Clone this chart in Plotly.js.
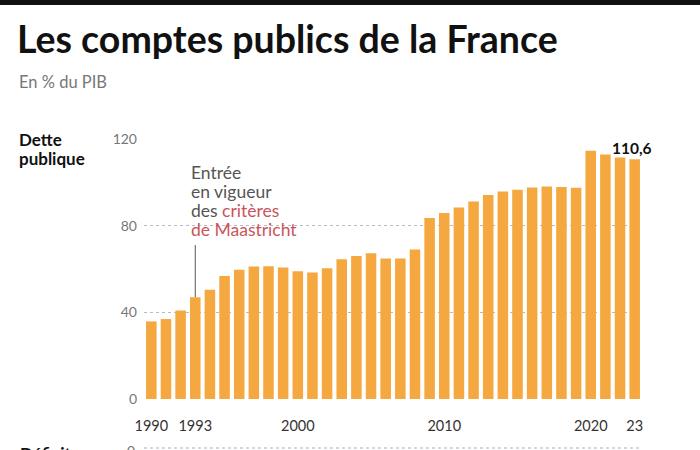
<!DOCTYPE html>
<html>
<head>
<meta charset="utf-8">
<script src="https://cdn.plot.ly/plotly-3.0.1.min.js"></script>
<style>
html,body{margin:0;padding:0;background:#fff;overflow:hidden;}
#chart{width:700px;height:450px;}
</style>
</head>
<body>
<div id="chart"></div>
<script>
// Data: dette publique, % du PIB
const years = [1990,1991,1992,1993,1994,1995,1996,1997,1998,1999,
               2000,2001,2002,2003,2004,2005,2006,2007,2008,2009,
               2010,2011,2012,2013,2014,2015,2016,2017,2018,2019,
               2020,2021,2022,2023];
const debt = [35.8,36.9,40.9,47.0,50.4,56.8,59.7,61.2,61.3,60.7,
              59.0,58.4,60.3,64.5,66.0,67.3,64.9,64.9,69.0,83.5,
              85.8,88.4,91.2,94.2,95.8,96.6,97.6,98.1,97.8,97.5,
              114.6,112.8,111.5,110.6];
const tickYears = [1990,1993,2000,2010,2020,2023];
const tickLabels = ["1990","1993","2000","2010","2020","23"];
const yTicks = [0,40,80,120];
const lastLabel = "110,6";
const maastrichtYear = 1993;
const maastrichtLines = ["Entrée","en vigueur",
  "des <span style='color:#c9545c'>critères</span>",
  "<span style='color:#c9545c'>de Maastricht</span>"];

const W = 700, H = 450;
const M = {l:144, r:58, t:139, b:51};
const pw = W - M.l - M.r, ph = H - M.t - M.b;
const px = x => (x - M.l) / pw;
const py = y => (H - M.b - y) / ph;

const FONT = "Lato, 'Open Sans', sans-serif";
const bar = {
  type:'bar', x: years, y: debt,
  marker:{color:'#f4a83f', line:{width:0}},
  width: 0.72, hoverinfo:'x+y'
};

const annotations = [
  {xref:'paper', yref:'paper', x:px(15), y:py(14), xanchor:'left', yanchor:'top',
   text:'<b>Les comptes publics de la France</b>', showarrow:false,
   font:{family:FONT, size:37.5, color:'#111', weight:900}},
  {xref:'paper', yref:'paper', x:px(17), y:py(70), xanchor:'left', yanchor:'top',
   text:'En % du PIB', showarrow:false,
   font:{family:FONT, size:16.5, color:'#777'}},
  {xref:'paper', yref:'paper', x:px(17), y:py(139), xanchor:'left', yanchor:'middle',
   text:'<b>Dette</b>', showarrow:false,
   font:{family:FONT, size:17, color:'#111', weight:900}},
  {xref:'paper', yref:'paper', x:px(17), y:py(158.5), xanchor:'left', yanchor:'middle',
   text:'<b>publique</b>', showarrow:false,
   font:{family:FONT, size:17, color:'#111', weight:900}},
  {xref:'x', yref:'y', x:years[years.length-1], y:debt[debt.length-1], xanchor:'center', yanchor:'bottom',
   xshift:-3, yshift:0,
   text:'<b>'+lastLabel+'</b>', showarrow:false,
   font:{family:FONT, size:15.5, color:'#111'}},
  {xref:'paper', yref:'paper', x:px(18), y:py(441), xanchor:'left', yanchor:'top',
   text:'<b>Déficit</b>', showarrow:false,
   font:{family:FONT, size:17, color:'#111'}},
  {xref:'paper', yref:'paper', x:px(137), y:py(440), xanchor:'right', yanchor:'top',
   text:'0', showarrow:false,
   font:{family:FONT, size:14, color:'#777'}}
];
const lineY = [172,191.5,210.5,229];
maastrichtLines.forEach((t,i)=>{
  annotations.push({xref:'x', yref:'paper', x:maastrichtYear, y:py(lineY[i]),
    xanchor:'left', yanchor:'middle', xshift:-6, text:t, showarrow:false,
    font:{family:FONT, size:17.5, color:'#555'}});
});

const shapes = [
  {type:'rect', xref:'paper', yref:'paper', x0:px(0), x1:px(W), y0:py(5), y1:py(0),
   fillcolor:'#111', line:{width:0}},
  {type:'line', xref:'x', yref:'paper', x0:maastrichtYear, x1:maastrichtYear,
   y0:py(245), y1:py(H - M.b - debt[years.indexOf(maastrichtYear)]*ph/120),
   line:{color:'#555', width:1}},
  {type:'line', xref:'paper', yref:'paper', x0:px(144), x1:px(640), y0:py(448), y1:py(448),
   line:{color:'#aab3bc', width:1, dash:'dot'}}
];

const layout = {
  width:W, height:H, margin:M,
  paper_bgcolor:'#fff', plot_bgcolor:'#fff',
  showlegend:false, bargap:0.28,
  font:{family:FONT, color:'#666', size:14},
  xaxis:{range:[1989.5,2023.5], tickvals:tickYears, ticktext:tickLabels,
    showgrid:false, zeroline:false, showline:false, ticks:'',
    ticklabelstandoff:16, tickfont:{family:FONT, size:14.5, color:'#333'}, fixedrange:true},
  yaxis:{range:[0,120], tickvals:yTicks, showgrid:true, gridcolor:'#b3bcc5',
    griddash:'dot', gridwidth:1, zeroline:false, showline:false, ticks:'',
    ticklabelstandoff:6, tickfont:{family:FONT, size:14, color:'#777'}, fixedrange:true},
  annotations, shapes
};

Plotly.newPlot('chart', [bar], layout, {displayModeBar:false, staticPlot:true});
</script>
</body>
</html>
